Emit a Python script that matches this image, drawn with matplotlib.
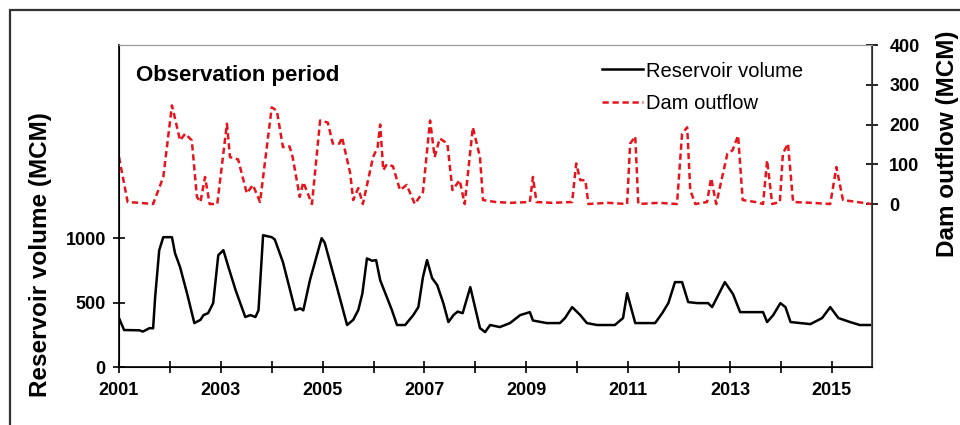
import matplotlib.pyplot as plt
from matplotlib.lines import Line2D
from matplotlib.patches import Rectangle

plt.rcParams['font.family'] = ['Liberation Sans', 'DejaVu Sans']

# reservoir volume (MCM) as (decimal year, value)
vol_t = [2001.0, 2001.1, 2001.4, 2001.47, 2001.6, 2001.67, 2001.71, 2001.79, 2001.87,
         2002.04, 2002.1, 2002.2, 2002.34, 2002.48, 2002.6, 2002.66, 2002.75, 2002.85,
         2002.95, 2003.05, 2003.15, 2003.29, 2003.48, 2003.58, 2003.68, 2003.74, 2003.83,
         2004.0, 2004.06, 2004.22, 2004.46, 2004.56, 2004.62, 2004.75, 2004.98, 2005.04,
         2005.28, 2005.48, 2005.6, 2005.7, 2005.78, 2005.87, 2005.97, 2006.05, 2006.13,
         2006.36, 2006.46, 2006.62, 2006.78, 2006.88, 2006.97, 2007.05, 2007.15, 2007.25,
         2007.37, 2007.47, 2007.57, 2007.65, 2007.75, 2007.9, 2008.09, 2008.19, 2008.29,
         2008.48, 2008.68, 2008.88, 2009.07, 2009.13, 2009.4, 2009.66, 2009.76, 2009.9,
         2010.06, 2010.19, 2010.39, 2010.74, 2010.9, 2010.98, 2011.14, 2011.34, 2011.53,
         2011.67, 2011.79, 2011.92, 2012.06, 2012.18, 2012.36, 2012.57, 2012.65, 2012.9,
         2013.06, 2013.2, 2013.65, 2013.73, 2013.85, 2013.99, 2014.09, 2014.19, 2014.58,
         2014.81, 2014.97, 2015.13, 2015.36, 2015.55, 2015.75]
vol = [380, 287, 285, 275, 302, 300, 543, 907, 1008,
       1008, 884, 775, 566, 341, 366, 403, 418, 496,
       868, 907, 775, 597, 388, 403, 388, 440, 1023,
       1008, 990, 814, 442, 455, 440, 674, 1000, 965,
       620, 326, 366, 442, 570, 843, 825, 830, 674,
       442, 326, 326, 403, 465, 698, 830, 690, 636,
       496, 349, 403, 430, 418, 620, 302, 271, 326,
       310, 341, 403, 426, 361, 341, 341, 380, 465,
       403, 341, 326, 326, 380, 573, 341, 341, 341,
       418, 496, 659, 659, 504, 496, 496, 465, 659,
       566, 426, 426, 349, 403, 496, 465, 349, 333,
       380, 465, 380, 349, 326, 326]

# dam outflow (MCM)
out_t = [2001.0, 2001.17, 2001.4, 2001.67, 2001.87, 2002.04, 2002.2, 2002.3, 2002.43,
         2002.53, 2002.6, 2002.69, 2002.78, 2002.93, 2003.12, 2003.18, 2003.34, 2003.51,
         2003.63, 2003.77, 2004.0, 2004.1, 2004.22, 2004.35, 2004.41, 2004.55, 2004.62,
         2004.79, 2004.95, 2005.1, 2005.2, 2005.33, 2005.38, 2005.54, 2005.6, 2005.7,
         2005.79, 2005.99, 2006.08, 2006.13, 2006.19, 2006.26, 2006.38, 2006.52, 2006.65,
         2006.81, 2006.97, 2007.11, 2007.2, 2007.3, 2007.45, 2007.55, 2007.69, 2007.79,
         2007.95, 2008.09, 2008.15, 2008.4, 2008.7, 2009.07, 2009.13, 2009.2, 2009.5,
         2009.9, 2009.98, 2010.06, 2010.16, 2010.22, 2010.6, 2010.98, 2011.04, 2011.14,
         2011.2, 2011.6, 2011.96, 2012.06, 2012.16, 2012.22, 2012.32, 2012.55, 2012.63,
         2012.73, 2012.95, 2013.05, 2013.16, 2013.25, 2013.5, 2013.65, 2013.73, 2013.83,
         2013.98, 2014.04, 2014.14, 2014.24, 2014.6, 2014.97, 2015.09, 2015.22, 2015.5,
         2015.78]
outflow = [118, 5, 3, 0, 68, 248, 160, 177, 160,
           18, 5, 68, 0, 0, 202, 118, 112, 27,
           48, 5, 243, 235, 143, 145, 118, 18, 55,
           0, 210, 205, 152, 152, 168, 78, 10, 40,
           0, 118, 143, 200, 85, 100, 95, 35, 48,
           0, 30, 210, 118, 165, 152, 35, 60, 0,
           193, 118, 10, 5, 3, 5, 68, 5, 3,
           5, 102, 60, 60, 0, 3, 0, 152, 170,
           0, 3, 0, 177, 193, 35, 0, 5, 65,
           0, 127, 135, 172, 10, 5, 0, 110, 0,
           5, 127, 152, 5, 3, 0, 93, 10, 5,
           0]

years = list(range(2001, 2016))
year_labels = [str(y) if y % 2 == 1 else '' for y in years]

fig = plt.figure(figsize=(9.6, 4.25), dpi=100)
fig.patches.append(Rectangle((10 / 960, -0.1), 1.2, 1 - 10 / 425 + 0.1,
                             transform=fig.transFigure, fill=False,
                             edgecolor='#333333', linewidth=1.6))
ax = fig.add_axes([119 / 960, 1 - 367 / 425, 753 / 960, 322 / 425])
ax2 = ax.twinx()

ax.plot(vol_t, vol, color='black', linewidth=1.8)
ax2.plot(out_t, outflow, color='#e8141b', linewidth=1.8, linestyle=(0, (2.5, 1.5)))

ax.set_xlim(2001, 2015.79)
ax.set_ylim(0, 2500)
ax2.set_ylim(-410, 400)
ax.set_xticks(years)
ax.set_xticklabels(year_labels)
ax.set_yticks([0, 500, 1000])
ax2.set_yticks([0, 100, 200, 300, 400])

for a in (ax, ax2):
    a.tick_params(direction='inout', length=9, width=1.2, labelsize=13)
    for lab in a.get_xticklabels() + a.get_yticklabels():
        lab.set_fontweight('bold')
ax.tick_params(axis='x', pad=6)
ax.tick_params(axis='y', pad=5)
ax2.tick_params(axis='y', pad=8)

ax.spines['top'].set_color('#999999')
ax2.spines['top'].set_color('#999999')
ax2.spines['right'].set_color('#333333')
for s in ('left', 'bottom'):
    ax.spines[s].set_linewidth(1.2)
ax2.spines['right'].set_linewidth(1.2)

ax.set_ylabel('Reservoir volume (MCM)', fontsize=17.5, fontweight='bold')
ax.yaxis.set_label_coords(-0.089, 0.348)
ax2.set_ylabel('Dam outflow (MCM)', fontsize=17.5, fontweight='bold', rotation=90)
ax2.yaxis.set_label_coords(1.085, 0.693)

ax.text(0.022, 0.905, 'Observation period', transform=ax.transAxes,
        fontsize=16, fontweight='bold', va='center', ha='left')

handles = [Line2D([], [], color='black', linewidth=1.8),
           Line2D([], [], color='#e8141b', linewidth=1.8, linestyle=(0, (2.5, 1.5)))]
ax.legend(handles, ['Reservoir volume', 'Dam outflow'], loc='upper left',
          bbox_to_anchor=(0.618, 1.005), frameon=False, fontsize=14.5,
          handlelength=2.0, handletextpad=0.15, labelspacing=0.65)

fig.savefig('out.png', dpi=100)
